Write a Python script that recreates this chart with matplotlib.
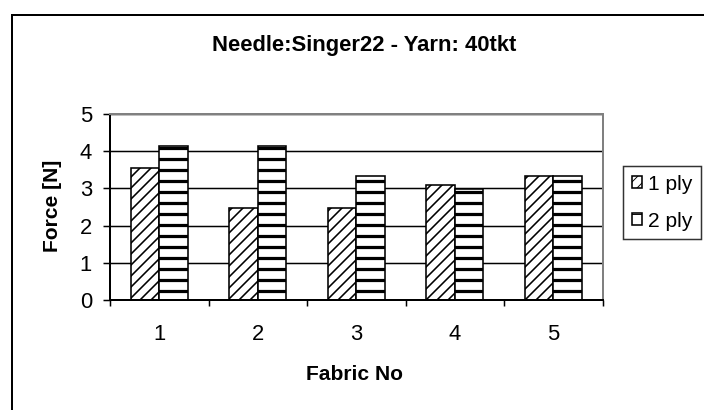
import matplotlib
matplotlib.use("Agg")
import matplotlib.pyplot as plt
from matplotlib.patches import Rectangle
import numpy as np

categories = ["1", "2", "3", "4", "5"]
ply1 = [3.55, 2.47, 2.47, 3.10, 3.33]
ply2 = [4.14, 4.14, 3.33, 2.98, 3.33]
series_names = ["1 ply", "2 ply"]
yticks = [0, 1, 2, 3, 4, 5]
title = "Needle:Singer22 - Yarn: 40tkt"
xlabel = "Fabric No"
ylabel = "Force [N]"

DPI = 200 / 3.0
W, H = 704, 410
PX = 72.0 / DPI  # points per pixel

plt.rcParams['font.family'] = ['Liberation Sans', 'DejaVu Sans']

fig = plt.figure(figsize=(W / DPI, H / DPI), dpi=DPI)
ax = fig.add_axes([110 / W, 1 - 300 / H, (602.5 - 110) / W, (300 - 114) / H])

x = np.arange(len(categories))
bw = 0.29
with plt.rc_context({'hatch.linewidth': 1.6 * PX}):
    b1 = ax.bar(x - bw / 2, ply1, bw, color='white', edgecolor='black',
                linewidth=1.6 * PX, hatch='//', zorder=2, label=series_names[0])
with plt.rc_context({'hatch.linewidth': 3.2 * PX}):
    b2 = ax.bar(x + bw / 2, ply2, bw, color='white', edgecolor='black',
                linewidth=1.6 * PX, hatch='-', zorder=2, label=series_names[1])

ax.set_xlim(-0.5, len(categories) - 0.5)
ax.set_ylim(0, 5)
ax.set_yticks(yticks)
ax.set_yticklabels([str(v) for v in yticks])
ax.set_xticks(np.arange(len(categories) + 1) - 0.5)
ax.set_xticklabels([])
ax.set_xticks(x, minor=True)
ax.set_xticklabels(categories, minor=True)

fs = 22 * PX
ax.tick_params(axis='y', direction='out', length=7 * PX, width=1.5 * PX,
               pad=11 * PX, labelsize=fs, colors='black')
ax.tick_params(axis='x', which='major', direction='out', length=6 * PX,
               width=1.5 * PX)
ax.tick_params(axis='x', which='minor', length=0, pad=24 * PX, labelsize=fs)

ax.set_axisbelow(True)
ax.yaxis.grid(True, color='black', linewidth=1.5 * PX)
for s in ['left', 'bottom']:
    ax.spines[s].set_color('black')
    ax.spines[s].set_linewidth(2 * PX)
for s in ['top', 'right']:
    ax.spines[s].set_color('#808080')
    ax.spines[s].set_linewidth(2 * PX)

fig.text(364 / W, 1 - 45 / H, title, ha='center', va='center',
         fontsize=22 * PX, fontweight='bold')
fig.text(354 / W, 1 - 374 / H, xlabel, ha='center', va='center',
         fontsize=21 * PX, fontweight='bold')
fig.text(53 / W, 1 - 206 / H, ylabel, ha='center', va='center',
         rotation=90, fontsize=21 * PX, fontweight='bold')

leg = fig.legend(handles=[b1, b2], labels=series_names,
                 loc='upper left', bbox_to_anchor=(622.7 / W, 1 - 166 / H),
                 fontsize=21 * PX, frameon=True, fancybox=False,
                 handlelength=0.5, handleheight=0.5, handletextpad=0.3,
                 borderpad=0.42, labelspacing=0.85, borderaxespad=0)
leg.get_frame().set_edgecolor('black')
leg.get_frame().set_linewidth(1.5 * PX)

fig.patches.append(Rectangle((12.3 / W, -0.2), 1.2, 1.2 - 15 / H,
                             transform=fig.transFigure, fill=False,
                             edgecolor='black', linewidth=2 * PX, clip_on=False))

fig.savefig("out.png", dpi=DPI)
